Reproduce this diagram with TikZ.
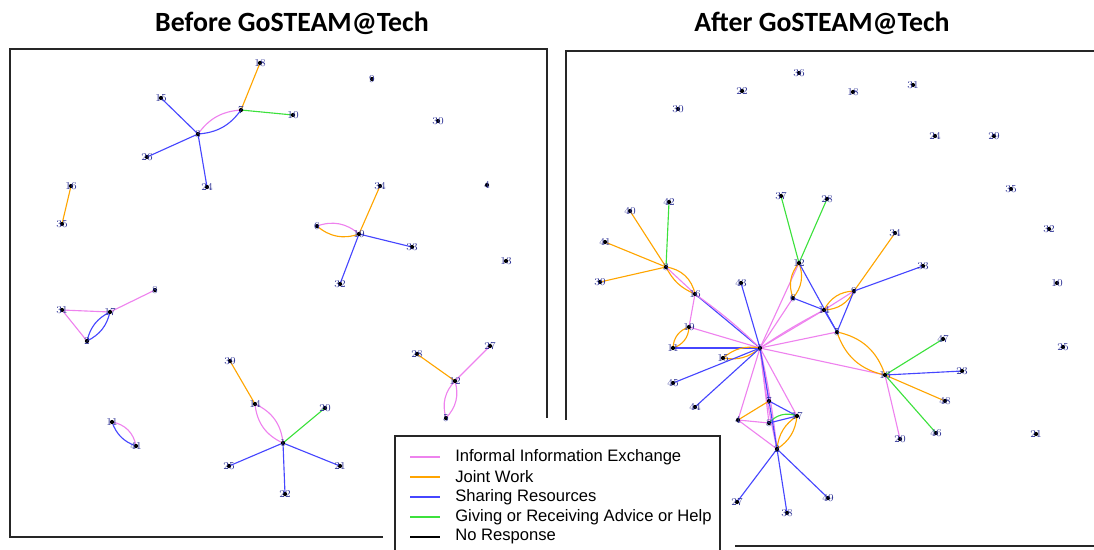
\documentclass[tikz,border=0pt]{standalone}
\usepackage{fontspec}
\newfontfamily\gstsans{Liberation Sans}
\newfontfamily\gsttitle{Carlito}
\definecolor{GstViolet}{RGB}{238,130,238}
\definecolor{GstOrange}{RGB}{255,165,0}
\definecolor{GstBlue}{RGB}{70,70,255}
\definecolor{GstGreen}{RGB}{60,225,60}
\definecolor{GstLabel}{RGB}{45,50,150}
\pgfdeclarelayer{edges}
\pgfsetlayers{edges,main}
\tikzset{
  gst/v/.style={
    font=\fontsize{7.5}{7.5}\selectfont,
    text=GstLabel,
    inner sep=0.6pt,
    path picture={\fill[black] (path picture bounding box.center) circle (1.5pt);}
  },
  gst/info/.style={draw=GstViolet, line width=0.8pt},
  gst/joint/.style={draw=GstOrange, line width=0.8pt},
  gst/share/.style={draw=GstBlue, line width=0.8pt},
  gst/advice/.style={draw=GstGreen, line width=0.8pt},
  gst/none/.style={draw=black, line width=0.8pt},
  gst/frame/.style={draw=black!85, line width=1.5pt},
  gst/title/.style={font=\gsttitle\bfseries\fontsize{19.8}{22}\selectfont, text=black},
  gst/legend/.style={font=\gstsans\fontsize{11.8}{13}\selectfont, anchor=west, inner sep=0pt}
}

\begin{document}
\begin{tikzpicture}[x=0.025cm,y=-0.025cm]
  \useasboundingbox (0,0) rectangle (1094,549);
  \clip (0,0) rectangle (1094,549);

  % titles
  \node[gst/title] (tbefore) at (292,23) {Before GoSTEAM@Tech};
  \node[gst/title] (tafter) at (822,23) {After GoSTEAM@Tech};

  % panel frames
  \draw[gst/frame] (383,537) -- (10,537) -- (10,49) -- (547,49) -- (547,418);
  \draw[gst/frame] (566,420) -- (566,51) -- (1100,51);
  \draw[gst/frame] (735,546) -- (1100,546);

  % before: vertices
  \node[gst/v] (b18) at (260,63) {18};
  \node[gst/v] (b7) at (241,110) {7};
  \node[gst/v] (b3) at (198,134) {3};
  \node[gst/v] (b15) at (161,98) {15};
  \node[gst/v] (b26) at (147,157) {26};
  \node[gst/v] (b24) at (207,187) {24};
  \node[gst/v] (b10) at (293,115) {10};
  \node[gst/v] (b16) at (71,186) {16};
  \node[gst/v] (b35) at (62,224) {35};
  \node[gst/v] (b9) at (372,79) {9};
  \node[gst/v] (b30) at (438,121) {30};
  \node[gst/v] (b34) at (380,186) {34};
  \node[gst/v] (b4) at (487,185) {4};
  \node[gst/v] (b6) at (317,226) {6};
  \node[gst/v] (b19) at (359,234) {19};
  \node[gst/v] (b33) at (412,247) {33};
  \node[gst/v] (b32) at (340,284) {32};
  \node[gst/v] (b13) at (506,261) {13};
  \node[gst/v] (b8) at (155,290) {8};
  \node[gst/v] (b31) at (62,310) {31};
  \node[gst/v] (b17) at (110,312) {17};
  \node[gst/v] (b2) at (87,341) {2};
  \node[gst/v] (b39) at (230,361) {39};
  \node[gst/v] (b14) at (255,404) {14};
  \node[gst/v] (b11) at (112,422) {11};
  \node[gst/v] (b41) at (136,446) {41};
  \node[gst/v] (b20) at (325,408) {20};
  \node[gst/v] (b1) at (283,443) {1};
  \node[gst/v] (b25) at (229,466) {25};
  \node[gst/v] (b21) at (340,466) {21};
  \node[gst/v] (b22) at (285,494) {22};
  \node[gst/v] (b28) at (417,354) {28};
  \node[gst/v] (b27) at (490,346) {27};
  \node[gst/v] (b12) at (455,381) {12};
  \node[gst/v] (b5) at (446,418) {5};

  % after: vertices
  \node[gst/v] (a36) at (799,73) {36};
  \node[gst/v] (a22) at (742,91) {22};
  \node[gst/v] (a30) at (678,109) {30};
  \node[gst/v] (a18) at (853,92) {18};
  \node[gst/v] (a31) at (913,85) {31};
  \node[gst/v] (a24) at (935,136) {24};
  \node[gst/v] (a29) at (994,136) {29};
  \node[gst/v] (a35) at (1011,189) {35};
  \node[gst/v] (a32) at (1049,229) {32};
  \node[gst/v] (a40) at (630,211) {40};
  \node[gst/v] (a42) at (669,202) {42};
  \node[gst/v] (a37) at (781,196) {37};
  \node[gst/v] (a28) at (827,199) {28};
  \node[gst/v] (a34) at (895,233) {34};
  \node[gst/v] (a33) at (923,266) {33};
  \node[gst/v] (a10) at (1057,283) {10};
  \node[gst/v] (a25) at (1063,347) {25};
  \node[gst/v] (a21) at (1036,434) {21};
  \node[gst/v] (a47) at (943,339) {47};
  \node[gst/v] (a23) at (962,371) {23};
  \node[gst/v] (a48) at (945,401) {48};
  \node[gst/v] (a46) at (936,433) {46};
  \node[gst/v] (a20) at (900,439) {20};
  \node[gst/v] (a41) at (605,242) {41};
  \node[gst/v] (a39) at (600,282) {39};
  \node[gst/v] (a3) at (666,267) {3};
  \node[gst/v] (a16) at (695,294) {16};
  \node[gst/v] (a43) at (741,283) {43};
  \node[gst/v] (a19) at (689,327) {19};
  \node[gst/v] (a11) at (673,348) {11};
  \node[gst/v] (a15) at (723,358) {15};
  \node[gst/v] (a1) at (760,348) {1};
  \node[gst/v] (a45) at (673,383) {45};
  \node[gst/v] (a44) at (695,407) {44};
  \node[gst/v] (a12) at (799,263) {12};
  \node[gst/v] (a6) at (793,298) {6};
  \node[gst/v] (a14) at (824,310) {14};
  \node[gst/v] (a9) at (854,291) {9};
  \node[gst/v] (a5) at (837,332) {5};
  \node[gst/v] (a13) at (885,375) {13};
  \node[gst/v] (a7) at (769,401) {7};
  \node[gst/v] (a4) at (738,420) {4};
  \node[gst/v] (a8) at (769,423) {8};
  \node[gst/v] (a17) at (797,416) {17};
  \node[gst/v] (a2) at (777,449) {2};
  \node[gst/v] (a27) at (737,502) {27};
  \node[gst/v] (a38) at (787,513) {38};
  \node[gst/v] (a49) at (828,498) {49};

  \begin{pgfonlayer}{edges}
    % before: ties
    \draw[gst/joint] (b7.center) -- (b18.center);
    \draw[gst/advice] (b7.center) -- (b10.center);
    \draw[gst/info] (b3.center) to[bend left=25] (b7.center);
    \draw[gst/share] (b3.center) to[bend right=25] (b7.center);
    \draw[gst/share] (b3.center) -- (b15.center);
    \draw[gst/share] (b3.center) -- (b26.center);
    \draw[gst/share] (b3.center) -- (b24.center);
    \draw[gst/joint] (b16.center) -- (b35.center);
    \draw[gst/joint] (b19.center) -- (b34.center);
    \draw[gst/info] (b6.center) to[bend left=30] (b19.center);
    \draw[gst/joint] (b6.center) to[bend right=30] (b19.center);
    \draw[gst/share] (b19.center) -- (b33.center);
    \draw[gst/share] (b19.center) -- (b32.center);
    \draw[gst/info] (b31.center) -- (b17.center);
    \draw[gst/info] (b17.center) -- (b8.center);
    \draw[gst/info] (b31.center) -- (b2.center);
    \draw[gst/share] (b2.center) to[bend left=25] (b17.center);
    \draw[gst/share] (b2.center) to[bend right=25] (b17.center);
    \draw[gst/joint] (b39.center) -- (b14.center);
    \draw[gst/info] (b14.center) to[bend left=30] (b1.center);
    \draw[gst/info] (b14.center) to[bend right=30] (b1.center);
    \draw[gst/advice] (b1.center) -- (b20.center);
    \draw[gst/share] (b1.center) -- (b25.center);
    \draw[gst/share] (b1.center) -- (b21.center);
    \draw[gst/share] (b1.center) -- (b22.center);
    \draw[gst/joint] (b12.center) -- (b28.center);
    \draw[gst/info] (b12.center) -- (b27.center);
    \draw[gst/info] (b12.center) to[bend left=30] (b5.center);
    \draw[gst/info] (b12.center) to[bend right=30] (b5.center);
    \draw[gst/info] (b11.center) to[bend left=35] (b41.center);
    \draw[gst/share] (b11.center) to[bend right=25] (b41.center);

    % after: ties
    \draw[gst/joint] (a3.center) -- (a40.center);
    \draw[gst/advice] (a3.center) -- (a42.center);
    \draw[gst/joint] (a3.center) -- (a41.center);
    \draw[gst/joint] (a3.center) -- (a39.center);
    \draw[gst/joint] (a3.center) to[bend left=35] (a16.center);
    \draw[gst/joint] (a3.center) to[bend right=20] (a16.center);
    \draw[gst/info] (a3.center) -- (a16.center);
    \draw[gst/share] (a16.center) -- (a1.center);
    \draw[gst/info] (a16.center) to[bend left=4] (a1.center);
    \draw[gst/info] (a16.center) -- (a19.center);
    \draw[gst/joint] (a19.center) to[bend left=35] (a11.center);
    \draw[gst/joint] (a19.center) to[bend right=35] (a11.center);
    \draw[gst/info] (a19.center) -- (a1.center);
    \draw[gst/share] (a11.center) -- (a1.center);
    \draw[gst/joint] (a15.center) to[bend left=25] (a1.center);
    \draw[gst/joint] (a15.center) to[bend right=25] (a1.center);
    \draw[gst/share] (a45.center) -- (a1.center);
    \draw[gst/share] (a44.center) -- (a1.center);
    \draw[gst/share] (a43.center) -- (a1.center);
    \draw[gst/info] (a1.center) -- (a12.center);
    \draw[gst/info] (a1.center) -- (a6.center);
    \draw[gst/info] (a1.center) -- (a14.center);
    \draw[gst/info] (a1.center) to[bend left=3] (a14.center);
    \draw[gst/info] (a1.center) -- (a5.center);
    \draw[gst/info] (a1.center) -- (a13.center);
    \draw[gst/advice] (a12.center) -- (a37.center);
    \draw[gst/advice] (a12.center) -- (a28.center);
    \draw[gst/joint] (a12.center) to[bend left=30] (a6.center);
    \draw[gst/joint] (a12.center) to[bend right=30] (a6.center);
    \draw[gst/share] (a12.center) -- (a5.center);
    \draw[gst/share] (a6.center) -- (a14.center);
    \draw[gst/joint] (a9.center) -- (a34.center);
    \draw[gst/share] (a9.center) -- (a33.center);
    \draw[gst/joint] (a9.center) to[bend left=30] (a14.center);
    \draw[gst/joint] (a9.center) to[bend right=30] (a14.center);
    \draw[gst/info] (a9.center) -- (a14.center);
    \draw[gst/share] (a9.center) -- (a5.center);
    \draw[gst/share] (a14.center) -- (a5.center);
    \draw[gst/joint] (a5.center) to[bend left=30] (a13.center);
    \draw[gst/joint] (a5.center) to[bend right=30] (a13.center);
    \draw[gst/advice] (a13.center) -- (a47.center);
    \draw[gst/share] (a13.center) -- (a23.center);
    \draw[gst/joint] (a13.center) -- (a48.center);
    \draw[gst/advice] (a13.center) -- (a46.center);
    \draw[gst/info] (a13.center) -- (a20.center);
    \draw[gst/info] (a1.center) -- (a4.center);
    \draw[gst/info] (a1.center) -- (a7.center);
    \draw[gst/info] (a1.center) -- (a8.center);
    \draw[gst/info] (a1.center) to[bend left=3] (a2.center);
    \draw[gst/info] (a1.center) to[bend right=3] (a2.center);
    \draw[gst/info] (a1.center) -- (a17.center);
    \draw[gst/share] (a1.center) -- (a7.center);
    \draw[gst/joint] (a4.center) -- (a7.center);
    \draw[gst/info] (a4.center) -- (a8.center);
    \draw[gst/info] (a4.center) -- (a2.center);
    \draw[gst/share] (a7.center) -- (a17.center);
    \draw[gst/advice] (a8.center) to[bend left=35] (a17.center);
    \draw[gst/share] (a8.center) -- (a17.center);
    \draw[gst/joint] (a17.center) to[bend left=25] (a2.center);
    \draw[gst/joint] (a17.center) to[bend right=25] (a2.center);
    \draw[gst/share] (a7.center) -- (a2.center);
    \draw[gst/share] (a2.center) -- (a27.center);
    \draw[gst/share] (a2.center) -- (a38.center);
    \draw[gst/share] (a2.center) -- (a49.center);
  \end{pgfonlayer}

  % legend
  \draw[fill=white, draw=black!85, line width=1.1pt] (395,436) rectangle (720,560);
  \node[gst/legend] (linfo) at (455,457) {Informal Information Exchange};
  \node[gst/legend] (ljoint) at (455,477) {Joint Work};
  \node[gst/legend] (lshare) at (455,497) {Sharing Resources};
  \node[gst/legend] (ladvice) at (455,517) {Giving or Receiving Advice or Help};
  \node[gst/legend] (lnone) at (455,537) {No Response};
  \draw[gst/info] (410,457) -- (440,457);
  \draw[gst/joint] (410,477) -- (440,477);
  \draw[gst/share] (410,497) -- (440,497);
  \draw[gst/advice] (410,517) -- (440,517);
  \draw[gst/none] (410,537) -- (440,537);
\end{tikzpicture}
\end{document}
